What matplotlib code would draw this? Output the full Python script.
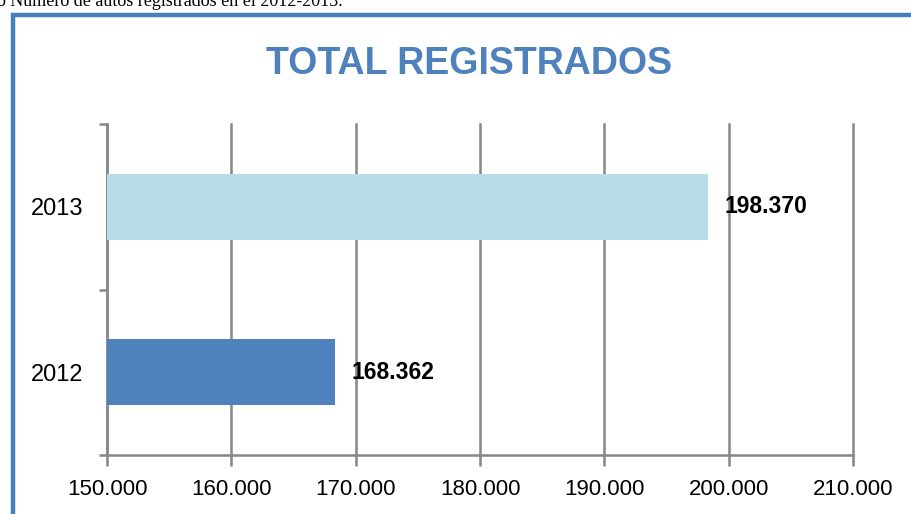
import matplotlib.pyplot as plt
from matplotlib.patches import Rectangle
from matplotlib.ticker import FuncFormatter

years = ["2012", "2013"]
totals = [168362, 198370]
bar_colors = ["#4F81BD", "#B7DEE8"]
xticks = [150000, 160000, 170000, 180000, 190000, 200000, 210000]

plt.rcParams["font.family"] = ["Liberation Sans", "DejaVu Sans"]

f = plt.figure(figsize=(9.12, 5.14), dpi=100)

# caption of the document, cut off at the top edge
f.text(-0.003, 1 - 6 / 514, "o Número de autos registrados en el 2012-2013.",
       family=["Liberation Serif", "DejaVu Serif"], fontsize=13,
       ha="left", va="baseline", color="black")

# blue chart frame, only top and left borders visible
f.patches.append(Rectangle((13.5 / 912, -0.1), 1.2, 1 - 14.5 / 514 + 0.1,
                           transform=f.transFigure, fill=False,
                           edgecolor="#4A7EBB", lw=3.2, zorder=0))

ax = f.add_axes([107 / 912, 1 - 455 / 514, (853 - 107) / 912, (455 - 124) / 514])

ypos = range(len(years))
ax.barh(ypos, [t - 150000 for t in totals], left=150000, height=0.4,
        color=bar_colors, zorder=3)

for y, t in zip(ypos, totals):
    ax.annotate(f"{t:,}".replace(",", "."), xy=(t, y), xytext=(16, 0),
                textcoords="offset pixels", va="center", ha="left",
                fontsize=16.5, fontweight="bold", color="black", zorder=4)

ax.set_xlim(150000, 210000)
ax.set_ylim(-0.5, 1.5)
ax.set_xticks(xticks)
ax.xaxis.set_major_formatter(FuncFormatter(lambda v, p: f"{int(v):,}".replace(",", ".")))
ax.set_yticks(list(ypos))
ax.set_yticklabels(years)
ax.set_yticks([-0.5, 0.5, 1.5], minor=True)

ax.grid(axis="x", color="#878787", lw=1.8, zorder=1)
for line in ax.get_xgridlines():
    line.set_clip_on(False)
for s in ["top", "right"]:
    ax.spines[s].set_visible(False)
for s in ["left", "bottom"]:
    ax.spines[s].set_color("#878787")
    ax.spines[s].set_linewidth(1.8)

ax.tick_params(axis="x", length=8, width=1.8, color="#878787", labelsize=16,
               pad=9)
ax.tick_params(axis="y", which="major", length=0, labelsize=17, pad=17)
ax.tick_params(axis="y", which="minor", length=6, width=1.8, color="#878787")

f.text(469 / 912, 1 - 64 / 514, "TOTAL REGISTRADOS", ha="center", va="center",
       fontsize=27, fontweight="bold", color="#4F81BD")

f.savefig("out.png", dpi=100)
